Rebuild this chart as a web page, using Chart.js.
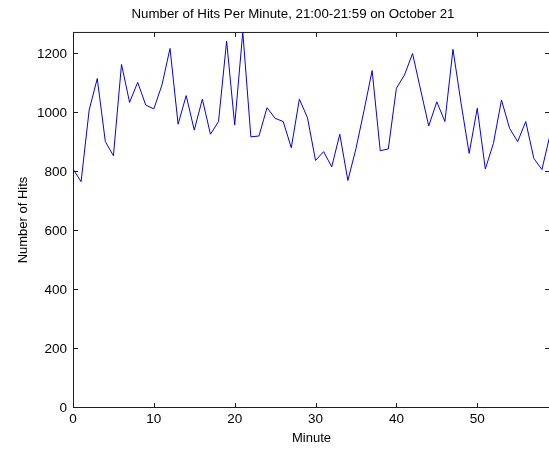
<!DOCTYPE html>
<html><head><meta charset="utf-8">
<script src="https://cdn.jsdelivr.net/npm/chart.js@4/dist/chart.umd.min.js"></script>
<style>html,body{margin:0;padding:0;overflow:hidden;background:#fff}#wrap{width:576px;height:449px;position:relative}</style>
</head><body><div id="wrap"><canvas id="c" width="576" height="449"></canvas></div>
<script>
const minutes = [0,1,2,3,4,5,6,7,8,9,10,11,12,13,14,15,16,17,18,19,20,21,22,23,24,25,26,27,28,29,30,31,32,33,34,35,36,37,38,39,40,41,42,43,44,45,46,47,48,49,50,51,52,53,54,55,56,57,58,59];
const hits = [811,768,1011,1118,904,856,1166,1037,1105,1028,1015,1096,1220,963,1060,943,1048,929,972,1245,960,1276,920,923,1019,983,972,883,1048,985,840,870,818,929,772,880,1010,1145,873,879,1085,1130,1203,1079,957,1039,972,1217,1034,864,1017,811,898,1045,949,904,972,847,809,926];
const xTicks = [0,10,20,30,40,50];
const yTicks = [0,200,400,600,800,1000,1200];
const xMax = 59;
const yMax = 1276;
const titleText = 'Number of Hits Per Minute, 21:00-21:59 on October 21';
const xLabel = 'Minute';
const yLabel = 'Number of Hits';

const FONT = '"Liberation Sans", Arial, sans-serif';
const AXC = '#1e1e1e';

const boxTicks = {
  id: 'boxTicks',
  afterDatasetsDraw(chart) {
    const {ctx, chartArea: a, scales: {x, y}} = chart;
    ctx.save();
    ctx.strokeStyle = AXC; ctx.lineWidth = 1;
    ctx.beginPath();
    ctx.rect(a.left + 0.5, a.top + 0.5, a.right - a.left - 1, a.bottom - a.top - 1);
    const tl = 5;
    xTicks.forEach(v => {
      const px = Math.round(x.getPixelForValue(v)) + 0.5;
      ctx.moveTo(px, a.bottom); ctx.lineTo(px, a.bottom - tl);
      ctx.moveTo(px, a.top); ctx.lineTo(px, a.top + tl);
    });
    yTicks.forEach(v => {
      const py = Math.round(y.getPixelForValue(v)) - 0.5;
      ctx.moveTo(a.left, py); ctx.lineTo(a.left + tl, py);
      ctx.moveTo(a.right, py); ctx.lineTo(a.right - tl, py);
    });
    ctx.stroke();
    ctx.restore();
  }
};

new Chart(document.getElementById('c'), {
  type: 'line',
  data: {
    datasets: [{
      data: minutes.map((m, i) => ({x: m, y: hits[i]})),
      borderColor: '#0000ee',
      borderWidth: 1,
      pointRadius: 0,
      tension: 0,
      fill: false
    }]
  },
  options: {
    responsive: false,
    animation: false,
    devicePixelRatio: 1,
    layout: {padding: {left: 10, right: 0, top: 0, bottom: 0}},
    plugins: {
      legend: {display: false},
      tooltip: {enabled: false},
      title: {
        display: true, text: titleText, color: '#000',
        font: {family: FONT, size: 13.3, weight: 'normal'},
        padding: {top: 6, bottom: 10}
      }
    },
    scales: {
      x: {
        type: 'linear', min: 0, max: xMax,
        afterBuildTicks: s => { s.ticks = xTicks.map(v => ({value: v})); },
        afterFit: s => { s.height = 41; },
        ticks: {color: '#000', font: {family: FONT, size: 13.5}, padding: 3, maxRotation: 0, autoSkip: false, callback: v => String(v)},
        grid: {display: false, drawTicks: false},
        border: {display: false},
        title: {display: true, text: xLabel, color: '#000', font: {family: FONT, size: 13}, padding: {top: 0, bottom: 3}}
      },
      y: {
        type: 'linear', min: 0, max: yMax,
        afterBuildTicks: s => { s.ticks = yTicks.map(v => ({value: v})); },
        afterFit: s => { s.width = 63; },
        ticks: {color: '#000', font: {family: FONT, size: 13.5}, padding: 6, autoSkip: false, callback: v => String(v)},
        grid: {display: false, drawTicks: false},
        border: {display: false},
        title: {display: true, text: yLabel, color: '#000', font: {family: FONT, size: 13}, padding: {top: 6, bottom: 0}}
      },
      y2: {
        type: 'linear', position: 'right', min: 0, max: yMax,
        afterFit: s => { s.width = 26; },
        ticks: {display: false},
        grid: {display: false, drawTicks: false},
        border: {display: false}
      }
    }
  },
  plugins: [boxTicks]
});
</script>
</body></html>
